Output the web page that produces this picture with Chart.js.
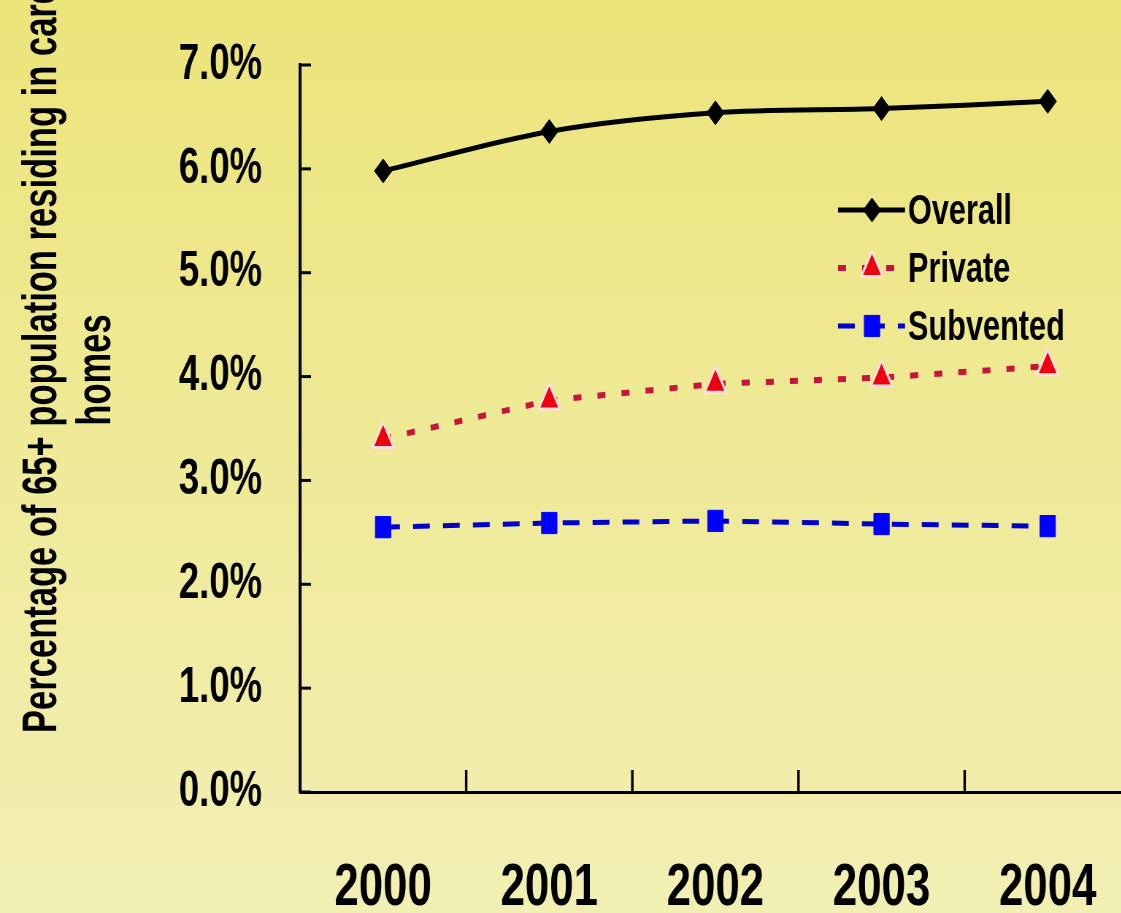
<!DOCTYPE html>
<html>
<head>
    <title>Care Homes Chart</title>
    <script src="https://cdn.jsdelivr.net/npm/chart.js"></script>
    <style>
        html, body { margin: 0; padding: 0; overflow: hidden; }
        body {
            width: 1121px; height: 913px;
            background: linear-gradient(to bottom, #ece47a 0%, #efea98 50%, #f2efb4 100%);
        }
        /* the original picture is a horizontally squeezed Arial chart */
        #wrap {
            position: absolute; left: 0; top: 0;
            width: 1569px; height: 913px;
            transform: scaleX(0.73); transform-origin: 0 0;
        }
        canvas { display: block; }
    </style>
    <script>
        const years = ['2000', '2001', '2002', '2003', '2004'];
        const overall = [5.98, 6.36, 6.54, 6.58, 6.65];
        const privateHomes = [3.40, 3.77, 3.93, 3.99, 4.10];
        const subvented = [2.55, 2.59, 2.61, 2.58, 2.56];
        const titleLines = ['Percentage of 65+ population residing in care', 'homes'];

        const SQUEEZE = 0.73;
        const FONT = "'Liberation Sans', Arial, sans-serif";

        // inward tick marks, y title and the legend inside the plot
        const extras = {
            id: 'extras',
            afterDraw(chart) {
                const ctx = chart.ctx;
                const area = chart.chartArea;
                const x = chart.scales.x, y = chart.scales.y;
                ctx.save();
                ctx.strokeStyle = '#000';
                ctx.lineWidth = 3;
                y.ticks.forEach((t, i) => {
                    const py = y.getPixelForTick(i);
                    ctx.beginPath();
                    ctx.moveTo(area.left, py);
                    ctx.lineTo(area.left + 15, py);
                    ctx.stroke();
                });
                ctx.lineWidth = 2.5 / SQUEEZE;
                for (let i = 1; i <= years.length; i++) {
                    const px = (x.getPixelForValue(i - 1) + x.getPixelForValue(i)) / 2;
                    ctx.beginPath();
                    ctx.moveTo(px, area.bottom);
                    ctx.lineTo(px, area.bottom - 22);
                    ctx.stroke();
                }

                // y title, drawn in screen units and squeezed along the text
                ctx.scale(1 / SQUEEZE, 1);
                ctx.fillStyle = '#000';
                ctx.font = 'bold 48px ' + FONT;
                ctx.textAlign = 'center';
                ctx.textBaseline = 'alphabetic';
                ctx.translate(0, 365);
                ctx.rotate(-Math.PI / 2);
                ctx.scale(0.72, 1);
                ctx.fillText(titleLines[0], 6 / 0.72, 56);
                ctx.fillText(titleLines[1], -5 / 0.72, 110);
                ctx.restore();

                // legend
                ctx.save();
                ctx.font = 'bold 42px ' + FONT;
                ctx.textBaseline = 'middle';
                ctx.textAlign = 'left';
                const lx0 = 838 / SQUEEZE, lx1 = 905 / SQUEEZE, lm = 872 / SQUEEZE, lt = 908 / SQUEEZE;
                chart.data.datasets.forEach((ds, i) => {
                    const ly = 210 + i * 58;
                    ctx.strokeStyle = ds.borderColor;
                    ctx.lineWidth = ds.borderWidth;
                    ctx.setLineDash(ds.borderDash || []);
                    ctx.beginPath();
                    ctx.moveTo(lx0, ly);
                    ctx.lineTo(lx1, ly);
                    ctx.stroke();
                    ctx.setLineDash([]);
                    if (Chart.helpers && Chart.helpers.drawPoint) {
                        ctx.fillStyle = ds.pointBackgroundColor;
                        ctx.strokeStyle = ds.pointBorderColor;
                        ctx.lineWidth = ds.pointBorderWidth;
                        Chart.helpers.drawPoint(ctx, {
                            pointStyle: ds.pointStyle, radius: ds.pointRadius,
                            borderWidth: ds.pointBorderWidth
                        }, lm, ly);
                    }
                    ctx.fillStyle = '#000';
                    ctx.fillText(ds.label, lt, ly + 2);
                });
                ctx.restore();
            }
        };

        document.addEventListener('DOMContentLoaded', function() {
            const ctx = document.getElementById('careChart').getContext('2d');
            new Chart(ctx, {
                type: 'line',
                data: {
                    labels: years,
                    datasets: [
                        {
                            label: 'Overall',
                            data: overall,
                            borderColor: '#000000',
                            borderWidth: 5,
                            pointStyle: 'rectRot',
                            pointRadius: 12,
                            pointBackgroundColor: '#000000',
                            pointBorderColor: '#000000',
                            pointBorderWidth: 1,
                            tension: 0.3,
                            fill: false
                        },
                        {
                            label: 'Private',
                            data: privateHomes,
                            borderColor: '#c8143c',
                            borderWidth: 6,
                            borderDash: [11, 22],
                            pointStyle: 'triangle',
                            pointRadius: 17,
                            pointBackgroundColor: '#ee0010',
                            pointBorderColor: '#fbe0dc',
                            pointBorderWidth: 3,
                            fill: false
                        },
                        {
                            label: 'Subvented',
                            data: subvented,
                            borderColor: '#0000c8',
                            borderWidth: 5,
                            borderDash: [23, 18],
                            pointStyle: 'rect',
                            pointRadius: 15,
                            pointBackgroundColor: '#0000ff',
                            pointBorderColor: '#0000ff',
                            pointBorderWidth: 1,
                            fill: false
                        }
                    ]
                },
                options: {
                    responsive: false,
                    animation: false,
                    devicePixelRatio: 1,
                    layout: { padding: { top: 65, right: 3, left: 0, bottom: 0 } },
                    plugins: {
                        legend: { display: false },
                        tooltip: { enabled: false }
                    },
                    scales: {
                        x: {
                            offset: true,
                            grid: { display: false, drawTicks: false },
                            border: { display: true, color: '#000', width: 3 },
                            ticks: {
                                color: '#000',
                                padding: 60,
                                font: { family: FONT, size: 60, weight: 'bold' }
                            },
                            afterFit(scale) {
                                scale.height = 121;
                                scale.paddingLeft = 0;
                                scale.paddingRight = 0;
                            }
                        },
                        y: {
                            min: 0,
                            max: 7,
                            grid: { display: false, drawTicks: false },
                            border: { display: true, color: '#000', width: 3 / SQUEEZE },
                            ticks: {
                                stepSize: 1,
                                color: '#000',
                                padding: 52,
                                font: { family: FONT, size: 50, weight: 'bold' },
                                callback: v => v.toFixed(1) + '%'
                            },
                            afterFit(scale) {
                                scale.width = 411;
                                scale.paddingTop = 0;
                                scale.paddingBottom = 0;
                            }
                        }
                    }
                },
                plugins: [extras]
            });
        });
    </script>
</head>
<body>
<div id="wrap"><canvas id="careChart" width="1569" height="913"></canvas></div>
</body>
</html>
